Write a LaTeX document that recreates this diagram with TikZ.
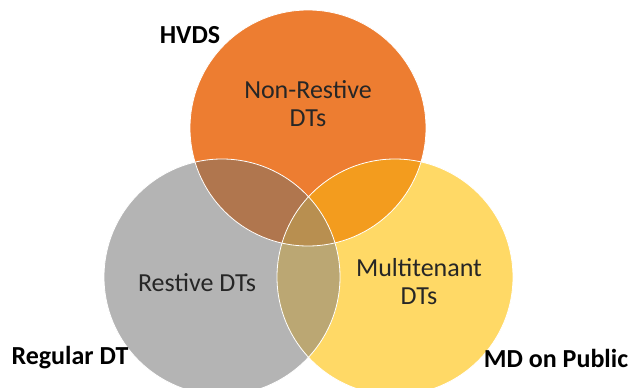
\documentclass[tikz,border=0pt]{standalone}
\usepackage{fontspec}
\setmainfont{Carlito}
\usetikzlibrary{%
		positioning%
	}

\definecolor{hvdsorange}{HTML}{ED7D31}
\definecolor{regulargray}{HTML}{B4B4B4}
\definecolor{publicyellow}{HTML}{FFD966}
\definecolor{hrbrown}{HTML}{B0764E}
\definecolor{hpamber}{HTML}{F39C1E}
\definecolor{rpolive}{HTML}{BBA773}
\definecolor{allbronze}{HTML}{B88F50}

\tikzset{%
	setlabel/.style={font=\fontsize{26}{28}\selectfont\bfseries, text=black},
	partlabel/.style={font=\fontsize{26}{28}\selectfont, text=black!85, align=center},
	ring/.style={draw=white, line width=0.8pt}%
}

\begin{document}
\begin{tikzpicture}[x=1pt,y=-1pt]
			\useasboundingbox (0,0) rectangle (630,388);
			\coordinate (hvds) at (308,128);
			\coordinate (regular) at (222,277);
			\coordinate (public) at (395,277);
			
			\fill[regulargray] (regular) circle (118pt);
			\fill[hvdsorange] (hvds) circle (118pt);
			\fill[publicyellow] (public) circle (118pt);
			
			% overlaps
			\begin{scope}
				\clip (regular) circle (118pt);
				\fill[hrbrown] (hvds) circle (118pt);
				\fill[rpolive] (public) circle (118pt);
			\end{scope}
			\begin{scope}
				\clip (hvds) circle (118pt);
				\fill[hpamber] (public) circle (118pt);
				\clip (public) circle (118pt);
				\fill[allbronze] (regular) circle (118pt);
			\end{scope}
			
			\draw[ring] (regular) circle (118pt);
			\draw[ring] (hvds) circle (118pt);
			\draw[ring] (public) circle (118pt);
			
			\node[partlabel] (nonrestive) at (308,104) {Non-Restive\\DTs};
			\node[partlabel] (restive) at (197,283) {Restive DTs};
			\node[partlabel] (multitenant) at (419,282) {Multitenant\\DTs};
			
			\node[setlabel] (hvdslabel) at (190,35) {HVDS};
			\node[setlabel] (regularlabel) at (70,358) {Regular DT};
			\node[setlabel] (publiclabel) at (556,358) {MD on Public};
		\end{tikzpicture}
\end{document}
